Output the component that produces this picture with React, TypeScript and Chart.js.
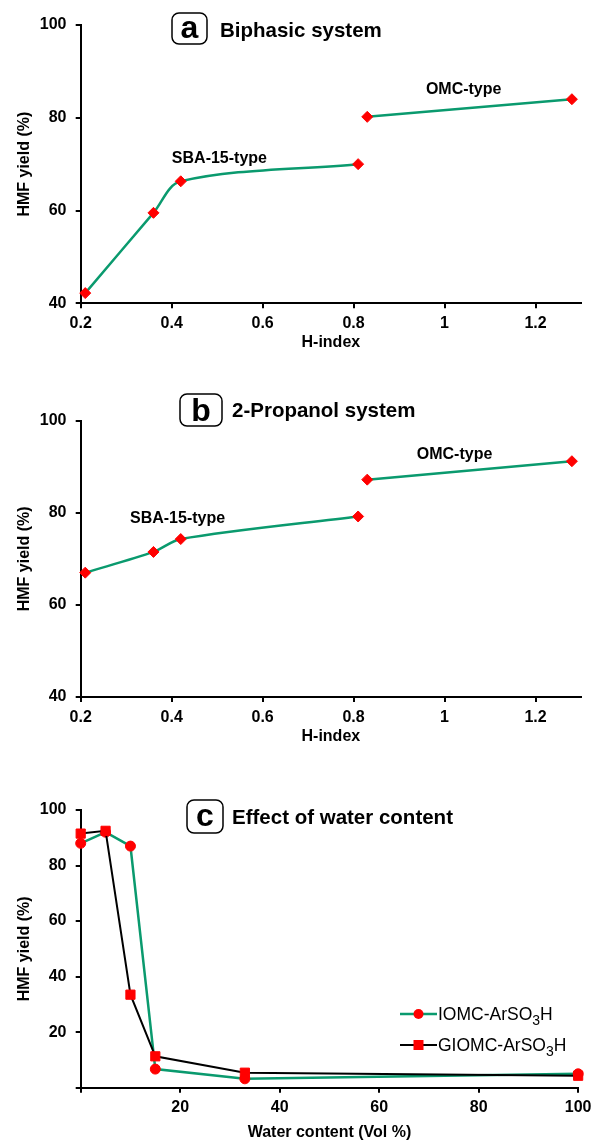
import React, { useEffect, useRef } from 'react';
import { Chart, registerables } from 'chart.js';

Chart.register(...registerables);

const FONT = '"Liberation Sans", Arial, Helvetica, sans-serif';
const GREEN = '#0a9a6e';
const RED = '#ff0000';
const BLACK = '#000000';

// ---------- Panels a & b (H-index) ----------
const hIndexSBA = [0.21, 0.36, 0.42, 0.81];
const hIndexOMC = [0.83, 1.28];
const biphasicSBA = [42.2, 59.5, 66.3, 70.0];
const biphasicOMC = [80.2, 84.0];
const propanolSBA = [67.0, 71.5, 74.3, 79.2];
const propanolOMC = [87.2, 91.2];
const hIndexTicks = [0.2, 0.4, 0.6, 0.8, 1, 1.2];
const yieldTicksAB = [40, 60, 80, 100];

// ---------- Panel c (water content) ----------
const waterContent = [0, 5, 10, 15, 33, 100];
const yieldIOMC = [88.0, 92.0, 87.0, 6.7, 3.2, 5.0];
const yieldGIOMC = [91.5, 92.5, 33.5, 11.3, 5.4, 4.3];
const seriesNamesC = ['IOMC-ArSO3H', 'GIOMC-ArSO3H'];
const waterTicks = [20, 40, 60, 80, 100];
const yieldTicksC = [20, 40, 60, 80, 100];

const tickFont = { family: FONT, size: 16, weight: 'bold' as const };
const titleFont = { family: FONT, size: 16, weight: 'bold' as const };

function xScale(min: number, max: number, ticks: number[], title: string, height: number, padBottom: number, zeroTick: boolean) {
  return {
    type: 'linear' as const,
    min,
    max,
    afterBuildTicks: (s: any) => {
      s.ticks = (zeroTick ? [min, ...ticks] : ticks).map((v) => ({ value: v }));
    },
    ticks: {
      color: BLACK,
      font: tickFont,
      padding: 5.5,
      maxRotation: 0,
      autoSkip: false,
      callback: (v: any) => (v === 0 ? '' : String(v)),
    },
    grid: { drawOnChartArea: false, drawTicks: true, tickLength: 5, color: BLACK, lineWidth: 2 },
    border: { display: true, color: BLACK, width: 2 },
    title: { display: true, text: title, color: BLACK, font: titleFont, padding: { top: 0, bottom: padBottom } },
    afterFit: (s: any) => {
      s.height = height;
    },
  };
}

function yScale(min: number, max: number, ticks: number[], zeroTick: boolean) {
  return {
    type: 'linear' as const,
    min,
    max,
    afterBuildTicks: (s: any) => {
      s.ticks = (zeroTick ? [min, ...ticks] : ticks).map((v) => ({ value: v }));
    },
    ticks: {
      color: BLACK,
      font: tickFont,
      padding: 9.2,
      autoSkip: false,
      callback: (v: any) => (v === 0 ? '' : String(v)),
    },
    grid: { drawOnChartArea: false, drawTicks: true, tickLength: 5, color: BLACK, lineWidth: 2 },
    border: { display: true, color: BLACK, width: 2 },
    title: { display: true, text: 'HMF yield (%)', color: BLACK, font: titleFont, padding: { top: 15.4, bottom: 0 } },
    afterFit: (s: any) => {
      s.width = 80.7;
    },
  };
}

type TitleSpec = { letter: string; box: number[]; letterBaseline: number; text: string; textX: number; textBaseline: number };
type Note = { text: string; x: number; y: number };
type LegendSpec = { rows: number[]; x0: number; x1: number; mx: number; tx: number };

function roundRect(ctx: CanvasRenderingContext2D, x: number, y: number, w: number, h: number, r: number) {
  ctx.beginPath();
  ctx.moveTo(x + r, y);
  ctx.lineTo(x + w - r, y);
  ctx.arcTo(x + w, y, x + w, y + r, r);
  ctx.lineTo(x + w, y + h - r);
  ctx.arcTo(x + w, y + h, x + w - r, y + h, r);
  ctx.lineTo(x + r, y + h);
  ctx.arcTo(x, y + h, x, y + h - r, r);
  ctx.lineTo(x, y + r);
  ctx.arcTo(x, y, x + r, y, r);
  ctx.closePath();
}

function decorPlugin(title: TitleSpec, notes: Note[], legend?: LegendSpec) {
  return {
    id: 'decor',
    afterDraw(chart: any) {
      const ctx: CanvasRenderingContext2D = chart.ctx;
      ctx.save();
      const [bx, by, bw, bh] = title.box;
      ctx.lineWidth = 1.5;
      ctx.strokeStyle = BLACK;
      roundRect(ctx, bx, by, bw, bh, 7);
      ctx.stroke();
      ctx.fillStyle = BLACK;
      ctx.font = `bold 32px ${FONT}`;
      ctx.textAlign = 'center';
      ctx.textBaseline = 'alphabetic';
      ctx.fillText(title.letter, bx + bw / 2, title.letterBaseline);
      ctx.font = `bold 20.5px ${FONT}`;
      ctx.textAlign = 'left';
      ctx.fillText(title.text, title.textX, title.textBaseline);

      const xs = chart.scales.x;
      const ys = chart.scales.y;
      ctx.font = `bold 16px ${FONT}`;
      ctx.textAlign = 'center';
      ctx.textBaseline = 'middle';
      notes.forEach((n) => ctx.fillText(n.text, xs.getPixelForValue(n.x), ys.getPixelForValue(n.y)));

      if (legend) {
        chart.data.datasets.forEach((ds: any, i: number) => {
          const y = legend.rows[i];
          ctx.strokeStyle = ds.borderColor;
          ctx.lineWidth = ds.borderWidth;
          ctx.beginPath();
          ctx.moveTo(legend.x0, y);
          ctx.lineTo(legend.x1, y);
          ctx.stroke();
          ctx.fillStyle = RED;
          if (ds.pointStyle === 'rect') {
            ctx.fillRect(legend.mx - 5, y - 5, 10, 10);
          } else {
            ctx.beginPath();
            ctx.arc(legend.mx, y, 5, 0, Math.PI * 2);
            ctx.fill();
          }
          const name: string = ds.label;
          const m = name.match(/^(.*SO)(3)(H)$/);
          const parts = m ? [m[1], m[2], m[3]] : [name, '', ''];
          ctx.fillStyle = BLACK;
          ctx.textAlign = 'left';
          ctx.textBaseline = 'alphabetic';
          let x = legend.tx;
          ctx.font = `17.5px ${FONT}`;
          ctx.fillText(parts[0], x, y + 6);
          x += ctx.measureText(parts[0]).width;
          ctx.font = `14px ${FONT}`;
          ctx.fillText(parts[1], x, y + 10.5);
          x += ctx.measureText(parts[1]).width;
          ctx.font = `17.5px ${FONT}`;
          ctx.fillText(parts[2], x, y + 6);
        });
      }
      ctx.restore();
    },
  };
}

function pts(xs: number[], ys: number[]) {
  return xs.map((x, i) => ({ x, y: ys[i] }));
}

function hIndexConfig(sba: number[], omc: number[], padTop: number, xHeight: number, padBottom: number, tension: number, title: TitleSpec, notes: Note[]): any {
  const common = {
    borderColor: GREEN,
    borderWidth: 2.5,
    pointStyle: 'rectRot',
    pointRadius: 5.5,
    pointBackgroundColor: RED,
    pointBorderColor: RED,
    pointBorderWidth: 1,
    clip: false,
    fill: false,
  };
  return {
    type: 'line',
    data: {
      datasets: [
        { ...common, label: 'SBA-15-type', data: pts(hIndexSBA, sba), tension },
        { ...common, label: 'OMC-type', data: pts(hIndexOMC, omc), tension: 0 },
      ],
    },
    options: {
      animation: false,
      responsive: false,
      events: [],
      layout: { padding: { top: padTop, right: 16, left: 0, bottom: 0 } },
      plugins: { legend: { display: false }, tooltip: { enabled: false }, title: { display: false } },
      scales: {
        x: xScale(0.2, 1.3, hIndexTicks, 'H-index', xHeight, padBottom, false),
        y: yScale(40, 100, yieldTicksAB, false),
      },
    },
    plugins: [decorPlugin(title, notes)],
  };
}

function waterConfig(): any {
  return {
    type: 'line',
    data: {
      datasets: [
        {
          label: seriesNamesC[0],
          data: pts(waterContent, yieldIOMC),
          borderColor: GREEN,
          borderWidth: 2.5,
          pointStyle: 'circle',
          pointRadius: 5,
          pointBackgroundColor: RED,
          pointBorderColor: RED,
          pointBorderWidth: 1,
          tension: 0,
          clip: false,
          order: 2,
        },
        {
          label: seriesNamesC[1],
          data: pts(waterContent, yieldGIOMC),
          borderColor: BLACK,
          borderWidth: 2,
          pointStyle: 'rect',
          pointRadius: 6.5,
          pointBackgroundColor: RED,
          pointBorderColor: RED,
          pointBorderWidth: 1,
          tension: 0,
          clip: false,
          order: 1,
        },
      ],
    },
    options: {
      animation: false,
      responsive: false,
      events: [],
      layout: { padding: { top: 50, right: 17, left: 0, bottom: 0 } },
      plugins: { legend: { display: false }, tooltip: { enabled: false }, title: { display: false } },
      scales: {
        x: xScale(0, 100, waterTicks, 'Water content (Vol %)', 55.3, 0.4, true),
        y: yScale(0, 100, yieldTicksC, true),
      },
    },
    plugins: [
      decorPlugin(
        { letter: 'c', box: [187, 40, 36, 33], letterBaseline: 66, text: 'Effect of water content', textX: 232, textBaseline: 64 },
        [],
        { rows: [254, 285], x0: 400, x1: 437, mx: 418.5, tx: 438 }
      ),
    ],
  };
}

function ChartCanvas({ top, height, build }: { top: number; height: number; build: () => any }) {
  const ref = useRef<HTMLCanvasElement>(null);
  useEffect(() => {
    const chart = new Chart(ref.current as HTMLCanvasElement, build());
    return () => chart.destroy();
  }, []);
  return (
    <canvas
      ref={ref}
      width={597}
      height={height}
      style={{ position: 'absolute', left: 0, top, width: 597, height, display: 'block' }}
    />
  );
}

export default function App() {
  return (
    <div style={{ position: 'absolute', left: 0, top: 0, width: 597, height: 1143, background: '#fff' }}>
      <ChartCanvas
        top={0}
        height={360}
        build={() =>
          hIndexConfig(
            biphasicSBA,
            biphasicOMC,
            25,
            56.7,
            7.4,
            0.33,
            { letter: 'a', box: [172, 13, 35, 31], letterBaseline: 37.5, text: 'Biphasic system', textX: 220, textBaseline: 37 },
            [
              { text: 'SBA-15-type', x: 0.505, y: 71.1 },
              { text: 'OMC-type', x: 1.042, y: 86 },
            ]
          )
        }
      />
      <ChartCanvas
        top={370}
        height={390}
        build={() =>
          hIndexConfig(
            propanolSBA,
            propanolOMC,
            50.7,
            63,
            13.4,
            0.3,
            { letter: 'b', box: [180, 24, 42, 32], letterBaseline: 51, text: '2-Propanol system', textX: 232, textBaseline: 47 },
            [
              { text: 'SBA-15-type', x: 0.413, y: 78.7 },
              { text: 'OMC-type', x: 1.022, y: 92.6 },
            ]
          )
        }
      />
      <ChartCanvas top={760} height={383} build={waterConfig} />
    </div>
  );
}
